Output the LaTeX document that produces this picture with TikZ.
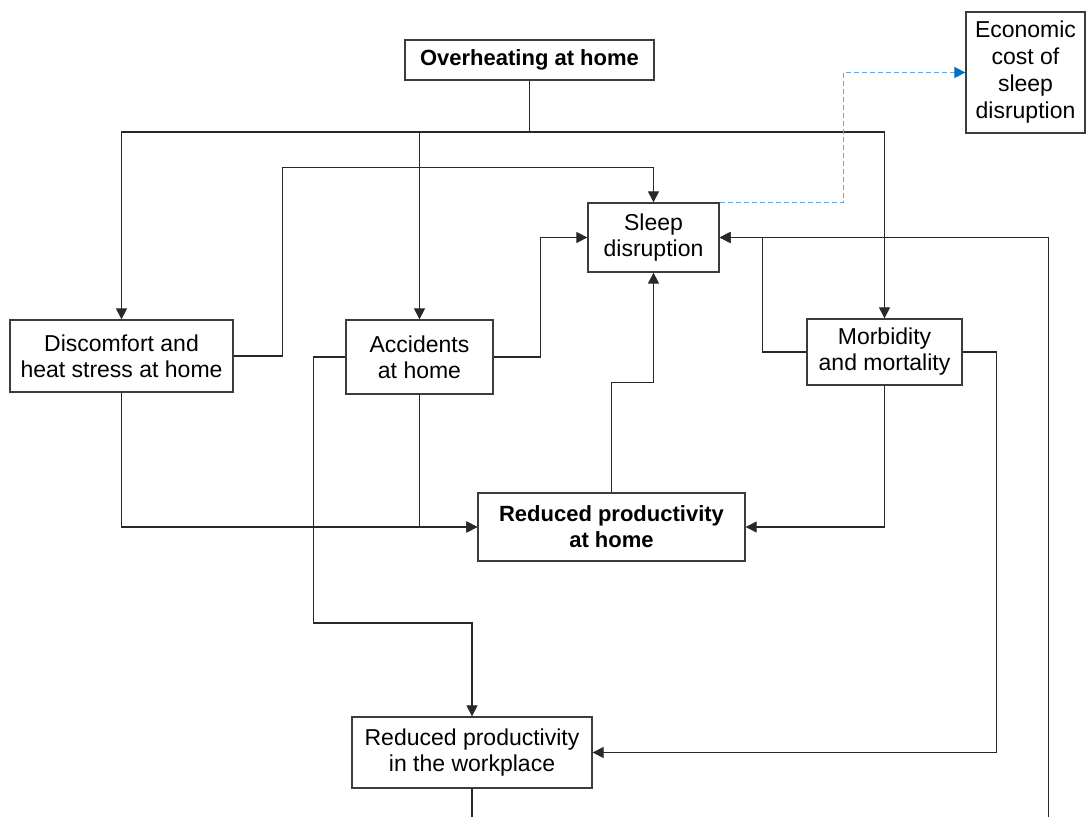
\documentclass[tikz,border=0pt]{standalone}
\usepackage{fontspec}
\setmainfont{Liberation Sans}
\usepackage{tikz}
\usetikzlibrary{arrows.meta,positioning,calc}
\definecolor{cLine}{RGB}{40,40,40}
\definecolor{cBorder}{RGB}{60,60,60}
\definecolor{cDot}{RGB}{105,165,215}
\definecolor{cDotTip}{RGB}{0,112,192}
\tikzset{
  basebox/.style={rectangle,draw=cBorder,line width=0.65pt,fill=white,
                  align=center,inner sep=2pt,
                  font=\fontsize{11.5}{13}\selectfont},
  boldbox/.style={basebox,font=\fontsize{11}{13}\selectfont\bfseries},
  wire/.style={line width=0.6pt,color=cLine},
  arr/.style={wire,-{Triangle[length=5.5pt,width=5.5pt]}},
  dotarr/.style={-{Triangle[length=5.5pt,width=5.5pt,color=cDotTip]},
                 line width=0.8pt,color=cDot,dash pattern=on 2.5pt off 1.5pt}
}

\begin{document}
\begin{tikzpicture}[x=0.5pt,y=-0.5pt]
  \clip (0,0) rectangle (1087,817);

  % boxes
  \node[boldbox,minimum width=124.5pt,minimum height=20pt] (heat) at (529.5,60)
    {Overheating at home};
  \node[basebox,minimum width=59.5pt,minimum height=60.5pt,
        font=\fontsize{11.5}{13.5}\selectfont] (econ) at (1025.5,72.5)
    {Economic\\cost of\\sleep\\disruption};
  \node[basebox,minimum width=65.5pt,minimum height=34.5pt] (sleep) at (653.5,237.5)
    {Sleep\\disruption};
  \node[basebox,minimum width=111.5pt,minimum height=36pt] (disc) at (121.5,356)
    {Discomfort and\\heat stress at home};
  \node[basebox,minimum width=73.5pt,minimum height=37pt] (acc) at (419.5,357)
    {Accidents\\at home};
  \node[basebox,minimum width=77.5pt,minimum height=33pt] (morb) at (884.5,352)
    {Morbidity\\and mortality};
  \node[boldbox,minimum width=133.5pt,minimum height=34pt] (home) at (611.5,527)
    {Reduced productivity\\at home};
  \node[basebox,minimum width=120pt,minimum height=35.5pt] (work) at (472,752.5)
    {Reduced productivity\\in the workplace};

  % from overheating
  \coordinate (split) at (529.5,132);
  \draw[wire] (heat.south) -- (split);
  \draw[arr] (split) -| (disc.north);
  \draw[arr] (split) -| (acc.north);
  \draw[arr] (split) -| (morb.north);

  % into sleep disruption
  \draw[arr] (disc.east) -- ++(49,0) |- ($(sleep.north)+(0,-35)$) -- (sleep.north);
  \draw[arr] (acc.east) -- ++(47,0) |- (sleep.west);
  \draw[arr] (morb.west) -- ++(-44,0) |- (sleep.east);
  \draw[arr] (home.north) -- ++(0,-110) -| (sleep.south);
  \draw[arr] (work.south) -- ++(0,45) -| ($(sleep.east)+(329,0)$) -- (sleep.east);

  % into reduced productivity
  \draw[arr] (disc.south) |- (home.west);
  \draw[arr] (acc.south) |- (home.west);
  \draw[arr] (morb.south) |- (home.east);
  \draw[arr] (acc.west) -- ++(-32,0) -- ++(0,266) -| (work.north);
  \draw[arr] (morb.east) -- ++(34,0) |- (work.east);

  \draw[dotarr] (sleep.north east) -- ++(124,0) |- (econ.west);
\end{tikzpicture}
\end{document}
